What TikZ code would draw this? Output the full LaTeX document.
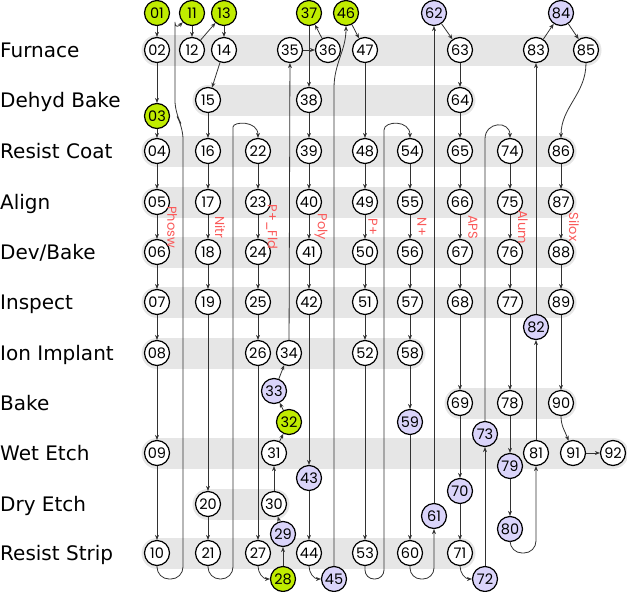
\documentclass[tikz,border=0pt]{standalone}
\usepackage{fontspec}
\setmainfont{DejaVu Sans}
\newfontfamily\numfont{Poppins}
\usetikzlibrary{arrows.meta,backgrounds}
\definecolor{stepgreen}{RGB}{192,236,0}
\definecolor{steplilac}{RGB}{218,212,250}
\definecolor{bandgray}{RGB}{230,230,230}
\definecolor{maskred}{RGB}{250,90,90}
\definecolor{edgegray}{RGB}{50,50,50}

\tikzset{
  stepnode/.style={circle, draw=black, line width=1.2pt, fill=white, minimum size=25pt, inner sep=0pt, font=\numfont\fontsize{14.5}{14.5}\selectfont},
  greennode/.style={stepnode, fill=stepgreen},
  lilacnode/.style={stepnode, fill=steplilac},
  flow/.style={-{Stealth[length=5pt,width=4pt]}, draw=edgegray, line width=0.8pt},
  band/.style={draw=bandgray, line width=31pt, line cap=round},
  rowlabel/.style={anchor=base west, inner sep=0pt, font=\fontsize{20}{20}\selectfont},
  masklabel/.style={rotate=-90, inner sep=0pt, text=maskred, font=\numfont\fontsize{13}{13}\selectfont},
}

\begin{document}
\begin{tikzpicture}[x=1pt, y=1pt]
  \useasboundingbox (0,0) rectangle (627,-592);

  % process rows
  \foreach \name/\y [count=\i] in {Furnace/50, Dehyd Bake/100, Resist Coat/151, Align/202, {Dev/Bake}/252, Inspect/302, Ion Implant/353, Bake/403, Wet Etch/453, Dry Etch/504, Resist Strip/553}
    \node[rowlabel] (row\i) at (0,-\y-7) {\name};

  % steps
  \foreach \n/\x/\y in {02/157/50, 04/157/151, 05/157/202, 06/157/252, 07/157/302, 08/157/353, 09/157/453, 10/157/553,
      12/192/50, 14/224/50, 15/208/100, 16/208/151, 17/208/202, 18/208/252, 19/208/302, 20/208/504, 21/208/553,
      22/258/151, 23/258/202, 24/258/252, 25/258/302, 26/258/353, 27/258/553,
      30/274/504, 31/274/453, 34/289/353, 35/290/50, 36/328/50,
      38/309/100, 39/309/151, 40/309/202, 41/309/252, 42/309/302, 44/309/553,
      47/365/50, 48/365/151, 49/365/202, 50/365/252, 51/365/302, 52/365/353, 53/365/553,
      54/410/151, 55/410/202, 56/410/252, 57/410/302, 58/410/353, 60/410/553,
      63/460/50, 64/460/100, 65/460/151, 66/460/202, 67/460/252, 68/460/302, 69/460/403, 71/460/553,
      74/510/151, 75/510/202, 76/510/252, 77/510/302, 78/510/403, 81/536/453, 83/536/50,
      85/586/50, 86/561/151, 87/561/202, 88/561/252, 89/561/302, 90/561/403, 91/573/453, 92/613/453}
    \node[stepnode] (n\n) at (\x,-\y) {\n};
  \foreach \n/\x/\y in {01/157/13, 03/157/116, 11/192/13, 13/224/13, 28/283/579, 32/289/422, 37/309/13, 46/346/13}
    \node[greennode] (n\n) at (\x,-\y) {\n};
  \foreach \n/\x/\y in {29/283/534, 33/274/391, 43/309/478, 45/334/579, 59/410/422, 61/434/516, 62/434/13,
      70/460/491, 72/485/579, 73/485/434, 79/510/466, 80/510/529, 82/536/327, 84/561/13}
    \node[lilacnode] (n\n) at (\x,-\y) {\n};

  % row bands
  \begin{scope}[on background layer]
    \draw[band] (n02.center) -- (n85.center);
    \draw[band] (n15.center) -- (n64.center);
    \draw[band] (n04.center) -- (n86.center);
    \draw[band] (n05.center) -- (n87.center);
    \draw[band] (n06.center) -- (n88.center);
    \draw[band] (n07.center) -- (n89.center);
    \draw[band] (n08.center) -- (n58.center);
    \draw[band] (n69.center) -- (n90.center);
    \draw[band] (n09.center) -- (n92.center);
    \draw[band] (n20.center) -- (n30.center);
    \draw[band] (n10.center) -- (n71.center);
  \end{scope}

  % mask layers
  \foreach \txt/\x [count=\i] in {Phosw/172, Nitr/220, P+\_Fld/272, Poly/321, P+/373, N+/422, APS/473, Alum/523, Silox/574}
    \node[masklabel] (mask\i) at (\x,-227) {\txt};

  % straight steps
  \foreach \a/\b in {01/02, 02/03, 03/04, 04/05, 05/06, 06/07, 07/08, 08/09, 09/10,
      11/12, 12/13, 13/14, 14/15, 15/16, 16/17, 17/18, 18/19, 19/20, 20/21,
      22/23, 23/24, 24/25, 25/26, 26/27,
      28/29, 29/30, 30/31, 31/32, 32/33, 33/34, 34/35, 35/36, 36/37, 37/38,
      38/39, 39/40, 40/41, 41/42, 42/43, 43/44,
      46/47, 47/48, 48/49, 49/50, 50/51, 51/52, 52/53,
      54/55, 55/56, 56/57, 57/58, 58/59, 59/60,
      61/62, 62/63, 63/64, 64/65, 65/66, 66/67, 67/68, 68/69, 69/70, 70/71,
      72/73, 74/75, 75/76, 76/77, 77/78, 78/79, 79/80,
      81/82, 82/83, 83/84, 84/85, 86/87, 87/88, 88/89, 89/90, 91/92}
    \draw[flow] (n\a) -- (n\b);

  % loops and bends
  \draw[flow, rounded corners=12pt] (n10.south) |- (183,-579) -- (183,-127) -- (175,-113) -- (175,-34) to[out=90,in=225] (n11.225);
  \draw[flow, rounded corners=12pt] (n21.south) |- (233,-579) -- (233,-139) to[out=90,in=90,looseness=1.8] (n22.north);
  \draw[flow, rounded corners=9pt] (n53.south) |- (384,-579) -- (384,-139) to[out=90,in=90,looseness=1.8] (n54.north);
  \draw[flow] (n73.north) -- (485,-139) to[out=90,in=90,looseness=1.8] (n74.north);
  \draw[flow, rounded corners=11pt] (n60.south) |- (434,-579) -- (n61.south);
  \draw[flow, rounded corners=12pt] (n80.south) |- (536,-553) -- (n81.south);
  \draw[flow] (n27.south) to[out=-90,in=180] (n28.west);
  \draw[flow] (n44.south) to[out=-90,in=180] (n45.west);
  \draw[flow] (n71.south) to[out=-90,in=180] (n72.west);
  \draw[flow] (n45.north) -- (334,-88) to[out=90,in=-90] (n46.south);
  \draw[flow] (n85.south) to[out=-90,in=90] (n86.north);
  \draw[flow] (n90.south) to[out=-90,in=110] (n91.110);
\end{tikzpicture}
\end{document}
